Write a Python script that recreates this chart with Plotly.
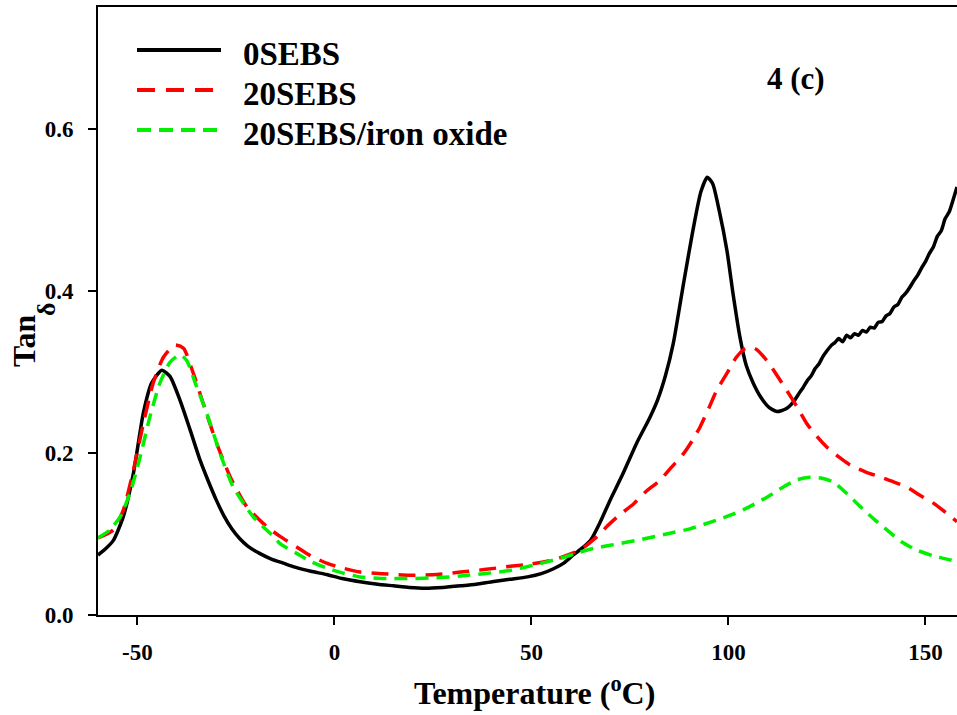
import plotly.graph_objects as go

# ---- Tan delta vs temperature, three blends ----
# 0SEBS
temp_0sebs = [-60, -58, -56.1, -53.6, -51.0, -48.5, -46.4, -43.8, -41.7, -39.2, -36.6,
              -34.1, -32, -30, -28, -26, -24, -22, -19, -16, -13, -10, -6, -2, 2, 6.5,
              11, 15, 19, 23, 27.5, 32, 36, 40, 44.5, 49, 52.5, 55.6, 58.2, 60.6, 63, 65,
              67.4, 70, 73, 76.7, 80, 82, 84, 86, 88.6, 91, 93, 94.6, 96, 97.6, 99.6,
              101.2, 102.9, 104.5, 106.3, 108.3, 110.3, 112.3, 114.5, 116.5,
              118, 119, 120, 121, 122, 123, 124, 125, 126, 127, 128, 129, 130, 131, 132,
              133, 134, 135, 136, 137, 138, 139, 140, 141, 142, 143, 144, 145, 146, 147,
              148, 149, 150, 151, 152, 153, 154, 155, 156, 157, 158]
tan_0sebs = [0.074, 0.082, 0.092, 0.121, 0.175, 0.249, 0.286, 0.302, 0.294, 0.265, 0.228,
             0.191, 0.165, 0.142, 0.122, 0.106, 0.094, 0.085, 0.076, 0.069, 0.064, 0.059,
             0.054, 0.050, 0.045, 0.041, 0.038, 0.036, 0.034, 0.033, 0.034, 0.036, 0.038,
             0.041, 0.044, 0.047, 0.051, 0.057, 0.064, 0.074, 0.083, 0.092,
             0.114, 0.142, 0.172, 0.212, 0.243, 0.265, 0.295, 0.335, 0.409, 0.475, 0.522,
             0.540, 0.532, 0.500, 0.450, 0.395, 0.343, 0.308, 0.286, 0.268, 0.256, 0.251,
             0.254, 0.263,
             0.274, 0.281, 0.289, 0.295, 0.304, 0.310, 0.319, 0.326, 0.332, 0.336, 0.341,
             0.337, 0.345, 0.342, 0.347, 0.345, 0.351, 0.349, 0.355, 0.354, 0.361, 0.362,
             0.369, 0.372, 0.380, 0.383, 0.392, 0.397, 0.404, 0.412, 0.419, 0.428, 0.436,
             0.446, 0.454, 0.467, 0.474, 0.489, 0.497, 0.512, 0.528]

# 20SEBS
temp_20sebs = [-60, -56.1, -53.6, -51.0, -48.5, -46.0, -43.4, -40.5, -38.3, -35.8, -33.3,
               -29.9, -26.5, -22.3, -17.2, -13.8, -9.6, -6, -2, 2, 6.5, 12, 19, 26, 32,
               38, 44.6, 50, 55.6, 62.3, 65, 67.4, 69.1, 72, 75.9, 79, 82.6, 85.5, 88.6,
               90.8, 92.8, 95, 97, 99.6, 102, 104, 105.5, 107, 109.7, 112, 114.8, 117.5,
               119.9, 122.5, 125, 128, 130.9, 135, 139.3, 142, 145.2, 148.5, 152, 155, 158]
tan_20sebs = [0.095, 0.105, 0.129, 0.179, 0.236, 0.286, 0.318, 0.333, 0.329, 0.298, 0.261,
              0.212, 0.171, 0.134, 0.109, 0.097, 0.084, 0.073, 0.064, 0.058, 0.053, 0.051,
              0.049, 0.050, 0.053, 0.056, 0.060, 0.063, 0.068, 0.080, 0.090, 0.100, 0.109,
              0.122, 0.137, 0.152, 0.166, 0.182, 0.199, 0.215, 0.232, 0.255, 0.277, 0.298,
              0.318, 0.328, 0.331, 0.328, 0.314, 0.298, 0.277, 0.256, 0.236, 0.220, 0.207,
              0.195, 0.185, 0.176, 0.169, 0.164, 0.158, 0.148, 0.138, 0.127, 0.115]

# 20SEBS/iron oxide
temp_20sebs_fe = [-60, -57.0, -54.4, -51.9, -49.3, -46.8, -44.3, -41.7, -39.2, -37.5, -35.0,
                  -32.4, -29.0, -25.7, -20.6, -15.5, -13.8, -9.6, -6, -2, 2, 6.5, 12, 19.2,
                  26, 31.9, 38, 44.6, 51, 57.4, 62, 65.7, 70, 76.7, 84.3, 90, 97, 101,
                  105.5, 110, 113.9, 117.5, 120.7, 123.5, 126.6, 130, 133.4, 137, 140.2,
                  144, 147.8, 152, 156.2, 158]
tan_20sebs_fe = [0.095, 0.105, 0.121, 0.150, 0.195, 0.245, 0.286, 0.312, 0.321, 0.314, 0.282,
                 0.249, 0.199, 0.158, 0.121, 0.097, 0.088, 0.076, 0.066, 0.058, 0.052, 0.047,
                 0.045, 0.045, 0.046, 0.048, 0.051, 0.055, 0.062, 0.070, 0.077, 0.082, 0.086,
                 0.092, 0.100, 0.106, 0.117, 0.124, 0.134, 0.146, 0.158, 0.167, 0.170, 0.169,
                 0.164, 0.150, 0.134, 0.118, 0.105, 0.090, 0.080, 0.073, 0.068, 0.066]

series_names = ["0SEBS", "20SEBS", "20SEBS/iron oxide"]
x_ticks = [-50, 0, 50, 100, 150]
y_ticks = [0.0, 0.2, 0.4, 0.6]

# ---- page geometry (pixels) ----
W, H = 957, 715
M_L, M_R, M_T, M_B = 98, 0, 7, 100
PW = W - M_L - M_R
PH = H - M_T - M_B


def px_x(px):
    return (px - M_L) / PW


def px_y(py):
    return (H - M_B - py) / PH


FONT = "Liberation Serif"
BLACK = "#000000"
RED = "#ff0000"
GREEN = "#00f000"

styles = [
    dict(color=BLACK, width=3.5, dash="solid"),
    dict(color=RED, width=3.5, dash="17px,10px"),
    dict(color=GREEN, width=3.5, dash="13px,8px"),
]
legend_dash = ["solid", "18px,11px", "14px,8px"]

fig = go.Figure()
for (xs, ys), name, st in zip(
    [(temp_0sebs, tan_0sebs), (temp_20sebs, tan_20sebs), (temp_20sebs_fe, tan_20sebs_fe)],
    series_names, styles,
):
    fig.add_trace(go.Scatter(
        x=xs, y=ys, mode="lines", name=name, showlegend=False,
        line=dict(color=st["color"], width=st["width"], dash=st["dash"],
                  shape="spline", smoothing=0.6),
    ))

# legend drawn as line samples + labels
shapes = []
annotations = []
legend_rows = [50, 90, 130]
for name, st, dash, row in zip(series_names, styles, legend_dash, legend_rows):
    shapes.append(dict(type="line", xref="paper", yref="paper",
                       x0=px_x(137), x1=px_x(221), y0=px_y(row), y1=px_y(row),
                       line=dict(color=st["color"], width=4, dash=dash)))
    annotations.append(dict(xref="paper", yref="paper", x=px_x(241), y=px_y(row + 4),
                            xanchor="left", yanchor="middle", showarrow=False, text=name,
                            font=dict(family=FONT, size=33, color="black", weight="bold")))

annotations.append(dict(xref="paper", yref="paper", x=px_x(796), y=px_y(78),
                        xanchor="center", yanchor="middle", showarrow=False, text="4 (c)",
                        font=dict(family=FONT, size=31, color="black", weight="bold")))

annotations.append(dict(xref="paper", yref="paper", x=px_x(534), y=px_y(691),
                        xanchor="center", yanchor="middle", showarrow=False,
                        text="Temperature (<sup>o</sup>C)",
                        font=dict(family=FONT, size=32, color="black", weight="bold")))

# y-axis title: "Tan" with a lowered delta
annotations.append(dict(xref="paper", yref="paper", x=px_x(24), y=px_y(341),
                        xanchor="center", yanchor="middle", showarrow=False,
                        text="Tan", textangle=-90,
                        font=dict(family=FONT, size=32, color="black", weight="bold")))
annotations.append(dict(xref="paper", yref="paper", x=px_x(46), y=px_y(309),
                        xanchor="center", yanchor="middle", showarrow=False,
                        text="δ", textangle=-90,
                        font=dict(family=FONT, size=26, color="black", weight="bold")))

tick_font = dict(family=FONT, size=23, color="black", weight="bold")

fig.update_layout(
    width=W, height=H,
    margin=dict(l=M_L, r=M_R, t=M_T, b=M_B, pad=0),
    paper_bgcolor="white", plot_bgcolor="white",
    shapes=shapes, annotations=annotations,
    showlegend=False,
    xaxis=dict(range=[-60, 158], tickvals=x_ticks, ticktext=[str(v) for v in x_ticks],
               showgrid=False, zeroline=False, showline=True, linecolor="black",
               linewidth=2, mirror=True, ticks="outside", ticklen=8, tickwidth=2,
               tickcolor="black", tickfont=tick_font, ticklabelstandoff=7),
    yaxis=dict(range=[0, 0.75], tickvals=y_ticks, ticktext=[f"{v:.1f}" for v in y_ticks],
               showgrid=False, zeroline=False, showline=True, linecolor="black",
               linewidth=2, ticks="outside", ticklen=8, tickwidth=2,
               tickcolor="black", tickfont=tick_font, ticklabelstandoff=10),
)

fig.write_html("out.html")
